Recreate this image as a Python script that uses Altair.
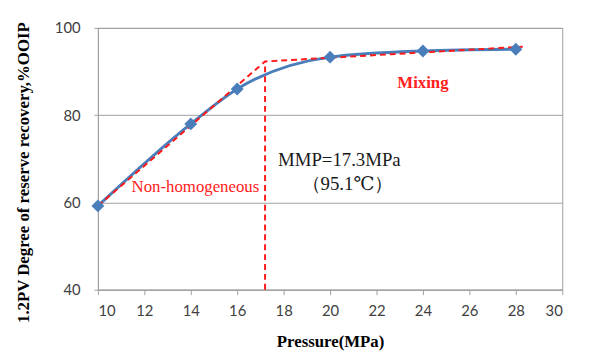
import altair as alt
import pandas as pd

# measured data (blue curve with diamonds)
pressure = [10, 14, 16, 20, 24, 28]
recovery = [59.2, 78.0, 86.0, 93.3, 94.7, 95.1]

# red dashed trend lines
trend_x = [10, 17.2, 28.3]
trend_y = [59.2, 92.3, 95.7]

# MMP vertical line
mmp_x = [17.2]
mmp_top = [92.3]
mmp_bottom = [40]

# annotations
red_labels = ["Non-homogeneous"]
red_lx = [14.2]
red_ly = [63.6]
bold_labels = ["Mixing"]
bold_lx = [24.0]
bold_ly = [87.3]
black_labels = ["MMP=17.3MPa", "（95.1℃）"]
black_lx = [20.4, 20.75]
black_ly = [69.8, 64.1]

x_ticks = list(range(10, 31, 2))
y_ticks = [40, 60, 80, 100]

SERIF = "'Liberation Serif', 'Times New Roman', 'DejaVu Serif', serif"

df = pd.DataFrame({"p": pressure, "r": recovery})
tr = pd.DataFrame({"p": trend_x, "r": trend_y})
mm = pd.DataFrame({"p": mmp_x, "top": mmp_top, "bot": mmp_bottom})
t_red = pd.DataFrame({"p": red_lx, "r": red_ly, "t": red_labels})
t_bold = pd.DataFrame({"p": bold_lx, "r": bold_ly, "t": bold_labels})
t_black = pd.DataFrame({"p": black_lx, "r": black_ly, "t": black_labels})

xs = alt.Scale(domain=[10, 30], nice=False, zero=False)
ys = alt.Scale(domain=[40, 100], nice=False, zero=False)

X = alt.X("p:Q", scale=xs, title="Pressure(MPa)",
          axis=alt.Axis(values=x_ticks, grid=False, titleY=44))
Y = alt.Y("r:Q", scale=ys, title="1.2PV Degree of reserve recovery,%OOIP",
          axis=alt.Axis(values=y_ticks, grid=True, titleX=-66, titleY=146))

blue = "#4a7ebb"

line = alt.Chart(df).mark_line(color=blue, strokeWidth=3, interpolate="monotone").encode(x=X, y=Y)
pts = alt.Chart(df).mark_point(shape="diamond", filled=True, color=blue, size=170, opacity=1).encode(x="p:Q", y="r:Q")
trend = alt.Chart(tr).mark_line(color="#ff1a1a", strokeWidth=2, strokeDash=[6, 4]).encode(x="p:Q", y="r:Q")
vline = alt.Chart(mm).mark_rule(color="#ff1a1a", strokeWidth=2, strokeDash=[6, 4]).encode(x="p:Q", y="bot:Q", y2="top:Q")

txt_red = alt.Chart(t_red).mark_text(font=SERIF, fontSize=17, color="#ff2020").encode(x="p:Q", y="r:Q", text="t:N")
txt_bold = alt.Chart(t_bold).mark_text(font=SERIF, fontSize=17, fontWeight="bold", color="#ff2020").encode(x="p:Q", y="r:Q", text="t:N")
txt_black = alt.Chart(t_black).mark_text(font=SERIF, fontSize=19, color="#1a1a1a").encode(x="p:Q", y="r:Q", text="t:N")

chart = alt.layer(line, trend, vline, pts, txt_red, txt_bold, txt_black).properties(
    width=470, height=265,
    autosize=alt.AutoSizeParams(type="none"),
    padding={"left": 91, "top": 18, "right": 20, "bottom": 67},
).configure_view(stroke="#a0a0a0", strokeWidth=1).configure_axis(
    domainColor="#a0a0a0", tickColor="#a0a0a0", gridColor="#a0a0a0",
    labelFont="Lato", labelFontSize=15, labelColor="#404040",
    titleFont=SERIF, titleFontSize=17, titleFontWeight="bold", titleColor="#000000",
    tickSize=5, labelPadding=9,
).configure_axisY(labelPadding=14, tickSize=4)

chart.save("out.html", embed_options={"renderer": "svg", "actions": False})
